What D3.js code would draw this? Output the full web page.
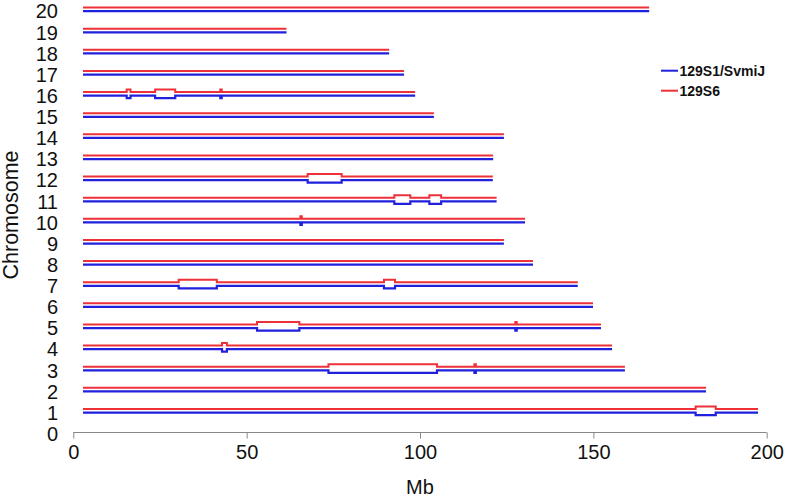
<!DOCTYPE html>
<html>
<head>
<meta charset="utf-8">
<script src="https://cdn.jsdelivr.net/npm/d3@7"></script>
<style>
  body { margin: 0; background: #fff; }
  text { font-family: "Liberation Sans", Arial, sans-serif; fill: #111; }
</style>
</head>
<body>
<div id="chart"></div>
<script>
//=========Data=========//
var chromosomes = [1, 2, 3, 4, 5, 6, 7, 8, 9, 10, 11, 12, 13, 14, 15, 16, 17, 18, 19, 20];
var chromStart = 2.8;
var chromEnd = [197.5, 182.5, 159.1, 155.4, 152.2, 149.9, 145.5, 132.6, 124.2, 130.3,
  122.1, 121.0, 121.1, 124.2, 104.0, 98.6, 95.4, 91.1, 61.5, 166.1];

// divergent regions: chromosome, start (Mb), end (Mb)
var regionChrom = [16, 16, 16, 12, 11, 11, 10, 7, 7, 5, 5, 4, 3, 3, 1];
var regionStart = [15.4, 23.6, 42.4, 67.6, 92.6, 102.7, 65.5, 30.4, 89.6, 53.0, 127.5, 42.9, 73.6, 115.7, 179.5];
var regionEnd = [16.5, 29.4, 42.8, 77.4, 97.2, 106.1, 65.9, 41.4, 92.8, 65.2, 127.9, 44.3, 104.9, 116.1, 185.3];

var xTicks = [0, 50, 100, 150, 200];
var yLabels = d3.range(0, 21);
var strains = ["129S1/SvmiJ", "129S6"];
var strainColors = ["#2020dd", "#ee3038"];

//=========SVG area=========//
var svgWidth = 788;
var svgHeight = 498;

var svg = d3
  .select("#chart")
  .append("svg")
  .attr("width", svgWidth)
  .attr("height", svgHeight);

var xScale = d3.scaleLinear().domain([0, 200]).range([73.3, 766.7]);
var yScale = d3.scaleLinear().domain([0, 20]).range([433.7, 11.2]);

// red line sits a bit above the blue one
var redShift = 0.175;
var bump = 2.5;

//=========Chromosome lines=========//
var line = d3.line();

function buildPoints(chrom, yBase, dir) {
  var pts = [[xScale(chromStart), yBase]];
  var feats = [];
  regionChrom.forEach(function (c, i) {
    if (c === chrom) feats.push([regionStart[i], regionEnd[i]]);
  });
  feats.sort(function (a, b) { return a[0] - b[0]; });
  feats.forEach(function (f) {
    var y2 = yBase + dir * bump;
    pts.push([xScale(f[0]), yBase]);
    pts.push([xScale(f[0]), y2]);
    pts.push([xScale(f[1]), y2]);
    pts.push([xScale(f[1]), yBase]);
  });
  pts.push([xScale(chromEnd[chrom - 1]), yBase]);
  return pts;
}

var chromGroup = svg.append("g").attr("class", "chroms");

chromosomes.forEach(function (c) {
  chromGroup
    .append("path")
    .attr("d", line(buildPoints(c, yScale(c + redShift), -1)))
    .attr("fill", "none")
    .attr("stroke", strainColors[1])
    .attr("stroke-width", 2);

  chromGroup
    .append("path")
    .attr("d", line(buildPoints(c, yScale(c), 1)))
    .attr("fill", "none")
    .attr("stroke", strainColors[0])
    .attr("stroke-width", 2.2);
});

//=========Axes=========//
var bottomAxis = d3.axisBottom(xScale).tickValues(xTicks).tickSize(6).tickPadding(6);

var xAxis = svg
  .append("g")
  .attr("transform", "translate(0, 432.5)")
  .call(bottomAxis);

xAxis.select(".domain").attr("stroke", "#888").attr("d", "M" + xScale(0) + ",0H" + xScale(200));
xAxis.selectAll(".tick line").attr("stroke", "#888");
xAxis.selectAll(".tick text")
  .style("font-family", "'Liberation Sans', Arial, sans-serif")
  .style("font-size", "20px")
  .attr("fill", "#111");

// y labels (chromosome numbers)
svg
  .append("g")
  .selectAll("text")
  .data(yLabels)
  .enter()
  .append("text")
  .attr("x", 58)
  .attr("y", function (d) { return yScale(d); })
  .attr("dy", "0.36em")
  .attr("text-anchor", "end")
  .style("font-size", "20px")
  .text(function (d) { return d; });

// axis titles
svg
  .append("text")
  .attr("x", xScale(100))
  .attr("y", 494)
  .attr("text-anchor", "middle")
  .style("font-size", "20px")
  .text("Mb");

svg
  .append("text")
  .attr("transform", "rotate(-90)")
  .attr("x", -215)
  .attr("y", 18)
  .attr("text-anchor", "middle")
  .style("font-size", "21.5px")
  .text("Chromosome");

//=========Legend=========//
var legend = svg.append("g").attr("transform", "translate(661, 70.7)");

strains.forEach(function (s, i) {
  var row = legend.append("g").attr("transform", "translate(0," + i * 20 + ")");
  row
    .append("line")
    .attr("x1", 0)
    .attr("x2", 17)
    .attr("y1", 0)
    .attr("y2", 0)
    .attr("stroke", strainColors[i])
    .attr("stroke-width", 2);
  row
    .append("text")
    .attr("x", 18.5)
    .attr("y", 0)
    .attr("dy", "0.36em")
    .style("font-size", "14px")
    .style("font-weight", "bold")
    .text(s);
});
</script>
</body>
</html>
